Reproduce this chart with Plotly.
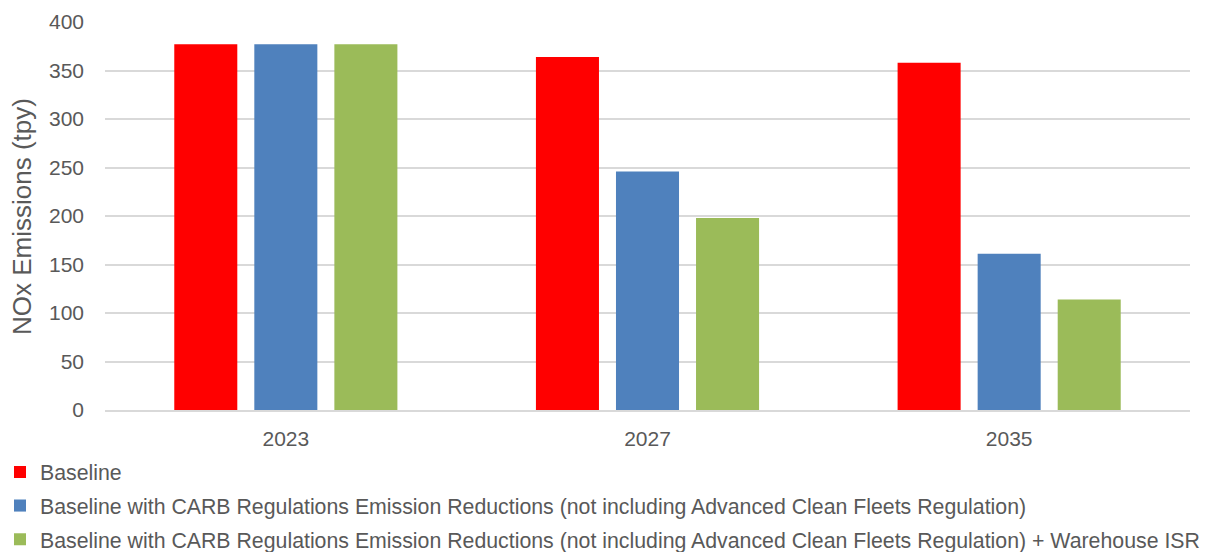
import plotly.graph_objects as go

years = ["2023", "2027", "2035"]
series_names = [
    "Baseline",
    "Baseline with CARB Regulations Emission Reductions (not including Advanced Clean Fleets Regulation)",
    "Baseline with CARB Regulations Emission Reductions (not including Advanced Clean Fleets Regulation) + Warehouse ISR",
]
baseline = [377, 364, 358]
carb = [377, 246, 161]
carb_isr = [377, 198, 114]
colors = ["#FF0000", "#4F81BD", "#9BBB59"]
y_title = "NOx Emissions (tpy)"

FONT = "Liberation Sans, Arial, sans-serif"
TXT = "#595959"

fig = go.Figure()
for i, (name, vals) in enumerate(zip(series_names, [baseline, carb, carb_isr])):
    fig.add_trace(go.Bar(
        x=years, y=vals, name=name, legendgroup=f"g{i}",
        marker=dict(color=colors[i], line=dict(width=0)),
    ))

fig.update_layout(
    width=1209, height=552,
    margin=dict(l=105, r=19, t=22, b=142, autoexpand=False),
    paper_bgcolor="white", plot_bgcolor="white",
    barmode="group", bargap=0.336, bargroupgap=0.2125,
    font=dict(family=FONT, color=TXT, size=21),
    showlegend=True,
    legend=dict(
        orientation="v", xref="container", yref="container",
        x=0.0, xanchor="left", y=0.182, yanchor="top",
        font=dict(family=FONT, size=21.3, color=TXT),
        tracegroupgap=3.0, bgcolor="rgba(0,0,0,0)",
    ),
    annotations=[dict(
        text=y_title, textangle=-90, showarrow=False,
        xref="paper", yref="paper", x=-0.0765, y=0.5,
        xanchor="center", yanchor="middle",
        font=dict(family=FONT, size=26, color=TXT),
    )],
)
fig.update_yaxes(
    range=[0, 400], dtick=50, showgrid=True, gridcolor="#D9D9D9", gridwidth=1.5,
    zeroline=False, showline=False, ticks="", ticklabelstandoff=20,
    tickfont=dict(family=FONT, size=21, color=TXT),
)
fig.update_xaxes(
    showline=True, linecolor="#D9D9D9", linewidth=1.5, showgrid=False, ticks="",
    ticklabelstandoff=9, tickfont=dict(family=FONT, size=21, color=TXT),
)

fig.write_html("out.html")
